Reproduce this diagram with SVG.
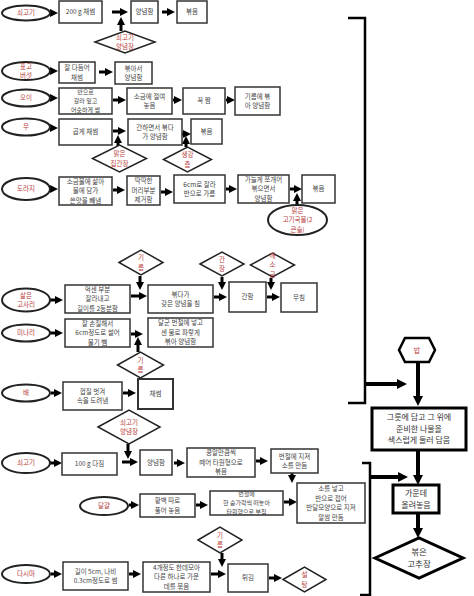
<svg xmlns="http://www.w3.org/2000/svg" width="474" height="596" viewBox="0 0 474 596">
<defs>
<style>
.box{fill:#fff;stroke:#333;stroke-width:1.5}
.bx3{fill:#fff;stroke:#000;stroke-width:3}
.el{fill:#fff;stroke:#222;stroke-width:2}
.dia{fill:#fff;stroke:#222;stroke-width:1.5}
.t{font-family:"Noto Sans CJK KR","Noto Sans",sans-serif;font-size:6.5px;fill:#444;text-anchor:middle}
.s{font-size:6px}
.r{fill:#b83c3c}
.big{font-size:8px;fill:#333}
.ar{fill:none;stroke:#000;stroke-width:3;marker-end:url(#a)}
.br{fill:none;stroke:#000;stroke-width:4;marker-end:url(#b)}
.bk{fill:none;stroke:#000;stroke-width:2.5}
</style>
<marker id="a" viewBox="0 0 8 8" refX="4" refY="4" markerWidth="8" markerHeight="8" markerUnits="userSpaceOnUse" orient="auto"><path d="M0,0L8,4L0,8z" fill="#000"/></marker>
<marker id="b" viewBox="0 0 10 10" refX="5" refY="5" markerWidth="10" markerHeight="10" markerUnits="userSpaceOnUse" orient="auto"><path d="M0,0L10,5L0,10z" fill="#000"/></marker>
</defs>
<rect width="474" height="596" fill="#fff"/>

<g id="connectors">
<path class="ar" d="M50,13H54"/><path class="ar" d="M112,12H124"/><path class="ar" d="M121,31V21"/><path class="ar" d="M162,12H171"/>
<path class="ar" d="M50,71H54"/><path class="ar" d="M99,72H109"/>
<path class="ar" d="M50,98H54"/><path class="ar" d="M113,100H122"/><path class="ar" d="M173,100H178"/><path class="ar" d="M226,100H231"/>
<path class="ar" d="M50,128H54"/><path class="ar" d="M113,131H122"/><path class="ar" d="M118,146V139"/><path class="ar" d="M182,134H187"/><path class="ar" d="M186,147V140"/>
<path class="ar" d="M50,189H54"/><path class="ar" d="M113,190H121"/><path class="ar" d="M161,192H169"/><path class="ar" d="M226,189H233"/><path class="ar" d="M290,189H298"/><path class="ar" d="M297,205V197"/>
<path class="ar" d="M50,300H59"/><path class="ar" d="M140,276V286"/><path class="ar" d="M131,296H143"/><path class="ar" d="M222,277V286"/><path class="ar" d="M214,297H223"/><path class="ar" d="M271,278V286"/><path class="ar" d="M267,297H276"/>
<path class="ar" d="M50,333H59"/><path class="ar" d="M131,334H139"/><path class="ar" d="M138,352V341"/>
<path class="ar" d="M51,393H58"/><path class="ar" d="M123,393H132"/>
<path class="ar" d="M128,444V455"/><path class="ar" d="M122,462H134"/><path class="ar" d="M50,463H58"/><path class="ar" d="M174,463H181"/><path class="ar" d="M256,461H264"/><path class="ar" d="M292,473V479"/>
<path class="ar" d="M129,505H135"/><path class="ar" d="M196,505H204"/><path class="ar" d="M284,502H293"/>
<path class="ar" d="M51,574H58"/><path class="ar" d="M129,574H137"/><path class="ar" d="M222,553V563"/><path class="ar" d="M211,574H222"/><path class="ar" d="M269,578H278"/>
<path class="bk" d="M348,18H365V403H348"/>
<path class="br" d="M365,384H402"/>
<path class="br" d="M418,362V401"/>
<path class="br" d="M418,450V480"/>
<path class="bk" d="M362,463H370V595H360"/>
<path class="br" d="M370,477H403"/>
<path class="br" d="M418,513V533"/>
</g>

<g id="n-sogogi1"><ellipse class="el" cx="26" cy="13" rx="24" ry="7.5"/><text class="t r" x="26" y="15.3">쇠고기</text></g>
<g id="b1"><rect class="box" x="59" y="1" width="43" height="22"/><text class="t" x="80.5" y="14.3">200 g 채썸</text></g>
<g id="b2"><rect class="box" x="131" y="1" width="27" height="22"/><text class="t" x="144.5" y="14.3">양념함</text></g>
<g id="b3"><rect class="box" x="177" y="1" width="30" height="22"/><text class="t" x="192" y="14.3">볶음</text></g>
<g id="d1"><path class="dia" d="M95,42L125,31L155,42L125,53z"/><text class="t r" x="125" y="39.5"><tspan x="125">쇠고기</tspan><tspan x="125" dy="9.5">양념장</tspan></text></g>

<g id="n-pyogo"><ellipse class="el" cx="26" cy="71" rx="24" ry="9"/><text class="t r" x="26" y="68.5"><tspan x="26">표고</tspan><tspan x="26" dy="9.5">버섯</tspan></text></g>
<g id="b4"><rect class="box" x="59" y="62" width="36" height="21"/><text class="t" x="77" y="70"><tspan x="77">잘 다듬어</tspan><tspan x="77" dy="9.5">채썸</tspan></text></g>
<g id="b5"><rect class="box" x="115" y="62" width="37" height="22"/><text class="t" x="133.5" y="70.5"><tspan x="133.5">볶아서</tspan><tspan x="133.5" dy="9.5">양념함</tspan></text></g>

<g id="n-oi"><ellipse class="el" cx="26" cy="98" rx="24" ry="8.5"/><text class="t r" x="26" y="100.3">오이</text></g>
<g id="b6"><rect class="box" x="59" y="88" width="53" height="26"/><text class="t s" x="85.5" y="94.4"><tspan x="85.5">반으로</tspan><tspan x="85.5" dy="8.7">갈라 잎고</tspan><tspan x="85.5" dy="8.7">어슷하게 썸</tspan></text></g>
<g id="b7"><rect class="box" x="127" y="88" width="45" height="26"/><text class="t" x="149.5" y="98.5"><tspan x="149.5">소금에 절여</tspan><tspan x="149.5" dy="9.5">놓음</tspan></text></g>
<g id="b8"><rect class="box" x="183" y="88" width="42" height="26"/><text class="t" x="204" y="103.3">꼭 짬</text></g>
<g id="b9"><rect class="box" x="235" y="87" width="45" height="28"/><text class="t" x="257.5" y="98.5"><tspan x="257.5">기름에 볶</tspan><tspan x="257.5" dy="9.5">아 양념함</tspan></text></g>

<g id="n-mu"><ellipse class="el" cx="26" cy="127" rx="24" ry="8.5"/><text class="t r" x="26" y="129.3">무</text></g>
<g id="b10"><rect class="box" x="59" y="119" width="53" height="26"/><text class="t" x="85.5" y="134.3">곱게 채썸</text></g>
<g id="b11"><rect class="box" x="128" y="119" width="54" height="26"/><text class="t" x="155" y="129.5"><tspan x="155">간하면서 볶다</tspan><tspan x="155" dy="9.5">가 양념함</tspan></text></g>
<g id="b12"><rect class="box" x="191" y="119" width="31" height="25"/><text class="t" x="206.5" y="133.8">볶음</text></g>
<g id="d2"><path class="dia" d="M92.5,158.5L119.5,145L146.5,158.5L119.5,172z"/><text class="t r" x="119.5" y="156"><tspan x="119.5">맑은</tspan><tspan x="119.5" dy="9.5">집간장</tspan></text></g>
<g id="d3"><path class="dia" d="M163.5,159.5L187.5,147L211.5,159.5L187.5,172z"/><text class="t r" x="187.5" y="157"><tspan x="187.5">생강</tspan><tspan x="187.5" dy="9.5">즙</tspan></text></g>

<g id="n-doraji"><ellipse class="el" cx="26" cy="189" rx="24" ry="11"/><text class="t r" x="26" y="191.3">도라지</text></g>
<g id="b13"><rect class="box" x="59" y="177" width="53" height="28"/><text class="t" x="85.5" y="183.8"><tspan x="85.5">소금물에 삶아</tspan><tspan x="85.5" dy="9.5">물에 담가</tspan><tspan x="85.5" dy="9.5">쓴맛을 빼냄</tspan></text></g>
<g id="b14"><rect class="box" x="127" y="176" width="33" height="29"/><text class="t" x="143.5" y="183.3"><tspan x="143.5">딱딱한</tspan><tspan x="143.5" dy="9.5">머리부분</tspan><tspan x="143.5" dy="9.5">제거함</tspan></text></g>
<g id="b15"><rect class="box" x="174" y="175" width="51" height="28"/><text class="t" x="199.5" y="186.5"><tspan x="199.5">6cm로 잘라</tspan><tspan x="199.5" dy="9.5">반으로 가름</tspan></text></g>
<g id="b16"><rect class="box" x="238" y="175" width="51" height="28"/><text class="t" x="263.5" y="181.8"><tspan x="263.5">가늘게 쪼개어</tspan><tspan x="263.5" dy="9.5">볶으면서</tspan><tspan x="263.5" dy="9.5">양념함</tspan></text></g>
<g id="b17"><rect class="box" x="302" y="175" width="33" height="28"/><text class="t" x="318.5" y="191.3">볶음</text></g>
<g id="e6"><ellipse class="el" cx="297.5" cy="220" rx="29.5" ry="15"/><text class="t r" x="297.5" y="212.8"><tspan x="297.5">맑은</tspan><tspan x="297.5" dy="9.5">고기국물(2</tspan><tspan x="297.5" dy="9.5">큰술)</tspan></text></g>

<g id="d4"><path class="dia" d="M119,262.5L141,250L163,262.5L141,275z"/><text class="t r" x="141" y="260"><tspan x="141">기</tspan><tspan x="141" dy="9.5">름</tspan></text></g>
<g id="d5"><path class="dia" d="M200,264L222,252L244,264L222,276z"/><text class="t r" x="222" y="261.5"><tspan x="222">간</tspan><tspan x="222" dy="9.5">장</tspan></text></g>
<g id="d6"><path class="dia" d="M250.5,265L272.5,253L294.5,265L272.5,277z"/><text class="t r" x="272.5" y="257.8"><tspan x="272.5">깨</tspan><tspan x="272.5" dy="9.5">소</tspan><tspan x="272.5" dy="9.5">금</tspan></text></g>

<g id="n-gosari"><ellipse class="el" cx="26" cy="300" rx="24" ry="11.5"/><text class="t r" x="26" y="297.5"><tspan x="26">삶은</tspan><tspan x="26" dy="9.5">고사리</tspan></text></g>
<g id="b18"><rect class="box" x="65" y="285" width="65" height="28"/><text class="t" x="97.5" y="291.8"><tspan x="97.5">억센 부분</tspan><tspan x="97.5" dy="9.5">잘라내고</tspan><tspan x="97.5" dy="9.5">길이를 2등분함</tspan></text></g>
<g id="b19"><rect class="box" x="148" y="285" width="65" height="28"/><text class="t" x="180.5" y="296.5"><tspan x="180.5">볶다가</tspan><tspan x="180.5" dy="9.5">갖은 양념을 침</tspan></text></g>
<g id="b20"><rect class="box" x="229" y="282" width="37" height="30"/><text class="t" x="247.5" y="299.3">간함</text></g>
<g id="b21"><rect class="box" x="281" y="283" width="36" height="29"/><text class="t" x="299" y="299.8">무침</text></g>

<g id="n-minari"><ellipse class="el" cx="26" cy="333" rx="24" ry="8.5"/><text class="t r" x="26" y="335.3">미나리</text></g>
<g id="b22"><rect class="box" x="65" y="319" width="65" height="28"/><text class="t" x="97.5" y="325.8"><tspan x="97.5">잘 손질해서</tspan><tspan x="97.5" dy="9.5">6cm정도로 썰어</tspan><tspan x="97.5" dy="9.5">물기 뺌</tspan></text></g>
<g id="b23"><rect class="box" x="148" y="318" width="65" height="29"/><text class="t" x="180.5" y="325.3"><tspan x="180.5">달군 번철에 넣고</tspan><tspan x="180.5" dy="9.5">센 불로 파랗게</tspan><tspan x="180.5" dy="9.5">볶아 양념함</tspan></text></g>
<g id="d7"><path class="dia" d="M117.5,365L140.5,352L163.5,365L140.5,378z"/><text class="t r" x="140.5" y="362.5"><tspan x="140.5">기</tspan><tspan x="140.5" dy="9.5">름</tspan></text></g>

<g id="n-bae"><ellipse class="el" cx="26" cy="393" rx="24" ry="8.5"/><text class="t r" x="26" y="395.3">배</text></g>
<g id="b24"><rect class="box" x="63" y="382" width="59" height="28"/><text class="t" x="92.5" y="393.5"><tspan x="92.5">껍질 벗겨</tspan><tspan x="92.5" dy="9.5">속을 도려냄</tspan></text></g>
<g id="b25"><rect class="box" x="138" y="379" width="35" height="30" style="stroke-width:2"/><text class="t" x="155.5" y="396.3">채썸</text></g>

<g id="d8"><path class="dia" d="M98,427L129,410L160,427L129,444z"/><text class="t r" x="129" y="424.5"><tspan x="129">쇠고기</tspan><tspan x="129" dy="9.5">양념장</tspan></text></g>
<g id="n-sogogi2"><ellipse class="el" cx="26" cy="463" rx="24" ry="10"/><text class="t r" x="26" y="465.3">쇠고기</text></g>
<g id="b26"><rect class="box" x="62" y="453" width="55" height="22"/><text class="t" x="89.5" y="466.3">100 g 다짐</text></g>
<g id="b27"><rect class="box" x="140" y="450" width="32" height="25"/><text class="t" x="156" y="464.8">양념함</text></g>
<g id="b28"><rect class="box" x="187" y="448" width="68" height="29"/><text class="t" x="221" y="455.3"><tspan x="221">콩알만큼씩</tspan><tspan x="221" dy="9.5">떼어 타원형으로</tspan><tspan x="221" dy="9.5">볶음</tspan></text></g>
<g id="b29"><rect class="box" x="271" y="449" width="47" height="24"/><text class="t" x="294.5" y="458.5"><tspan x="294.5">번철에 지져</tspan><tspan x="294.5" dy="9.5">소를 만듬</tspan></text></g>
<g id="b30"><rect class="box" x="297" y="483" width="68" height="40"/><text class="t" x="331" y="491"><tspan x="331">소를 넣고</tspan><tspan x="331" dy="9.5">반으로 접어</tspan><tspan x="331" dy="9.5">반달모양으로 지져</tspan><tspan x="331" dy="9.5">알쌈 만듬</tspan></text></g>

<g id="n-dalgyal"><ellipse class="el" cx="104" cy="506" rx="24" ry="9"/><text class="t r" x="104" y="508.3">달걀</text></g>
<g id="b31"><rect class="box" x="140" y="494" width="55" height="23"/><text class="t" x="167.5" y="503"><tspan x="167.5">황백 따로</tspan><tspan x="167.5" dy="9.5">풀어 놓음</tspan></text></g>
<g id="b32"><rect class="box" x="210" y="491" width="73" height="24"/><text class="t s" x="246.5" y="496.4"><tspan x="246.5">번철에</tspan><tspan x="246.5" dy="8.7">한 숟가락씩 떠놓아</tspan><tspan x="246.5" dy="8.7">타원형으로 부침</tspan></text></g>

<g id="d9"><path class="dia" d="M198,540L220,527L242,540L220,553z"/><text class="t r" x="220" y="537.5"><tspan x="220">기</tspan><tspan x="220" dy="9.5">름</tspan></text></g>
<g id="n-dasima"><ellipse class="el" cx="26" cy="574" rx="24" ry="9"/><text class="t r" x="26" y="576.3">다시마</text></g>
<g id="b33"><rect class="box" x="63" y="562" width="65" height="28"/><text class="t" x="95.5" y="573.5"><tspan x="95.5">길이 5cm, 나비</tspan><tspan x="95.5" dy="9.5">0.3cm정도로 썸</tspan></text></g>
<g id="b34"><rect class="box" x="143" y="562" width="67" height="30"/><text class="t" x="176.5" y="569.8"><tspan x="176.5">4개정도 한데모아</tspan><tspan x="176.5" dy="9.5">다른 하나로 가운</tspan><tspan x="176.5" dy="9.5">데를 묶음</tspan></text></g>
<g id="b35"><rect class="box" x="228" y="564" width="40" height="28"/><text class="t" x="248" y="580.3">튀김</text></g>
<g id="d10"><path class="dia" d="M283,579.5L304.5,567L326,579.5L304.5,592z"/><text class="t r" x="304.5" y="577"><tspan x="304.5">설</tspan><tspan x="304.5" dy="9.5">탕</tspan></text></g>

<g id="n-bap"><path d="M399,350L405,338L429,338L435,350L429,362L405,362z" fill="#fff" stroke="#000" stroke-width="2.5"/><text class="t r" x="417" y="352.5" style="font-size:7px">밥</text></g>
<g id="b-bowl"><rect class="bx3" x="372" y="408" width="94" height="42"/><text class="t big" x="419" y="420.2"><tspan x="419">그릇에 담고 그 위에</tspan><tspan x="419" dy="11.6">준비한 나물을</tspan><tspan x="419" dy="11.6">색스럽게 둘러 담음</tspan></text></g>
<g id="b-center"><rect class="bx3" x="393" y="485" width="46" height="28"/><text class="t big" x="416" y="496"><tspan x="416">가운데</tspan><tspan x="416" dy="11.6">올려놓음</tspan></text></g>
<g id="d-gochujang"><path d="M375,558L419,538L463,558L419,578z" fill="#fff" stroke="#000" stroke-width="3"/><text class="t big r" x="419" y="554.8" style="font-size:8.5px"><tspan x="419">볶은</tspan><tspan x="419" dy="12.4">고추장</tspan></text></g>
</svg>
